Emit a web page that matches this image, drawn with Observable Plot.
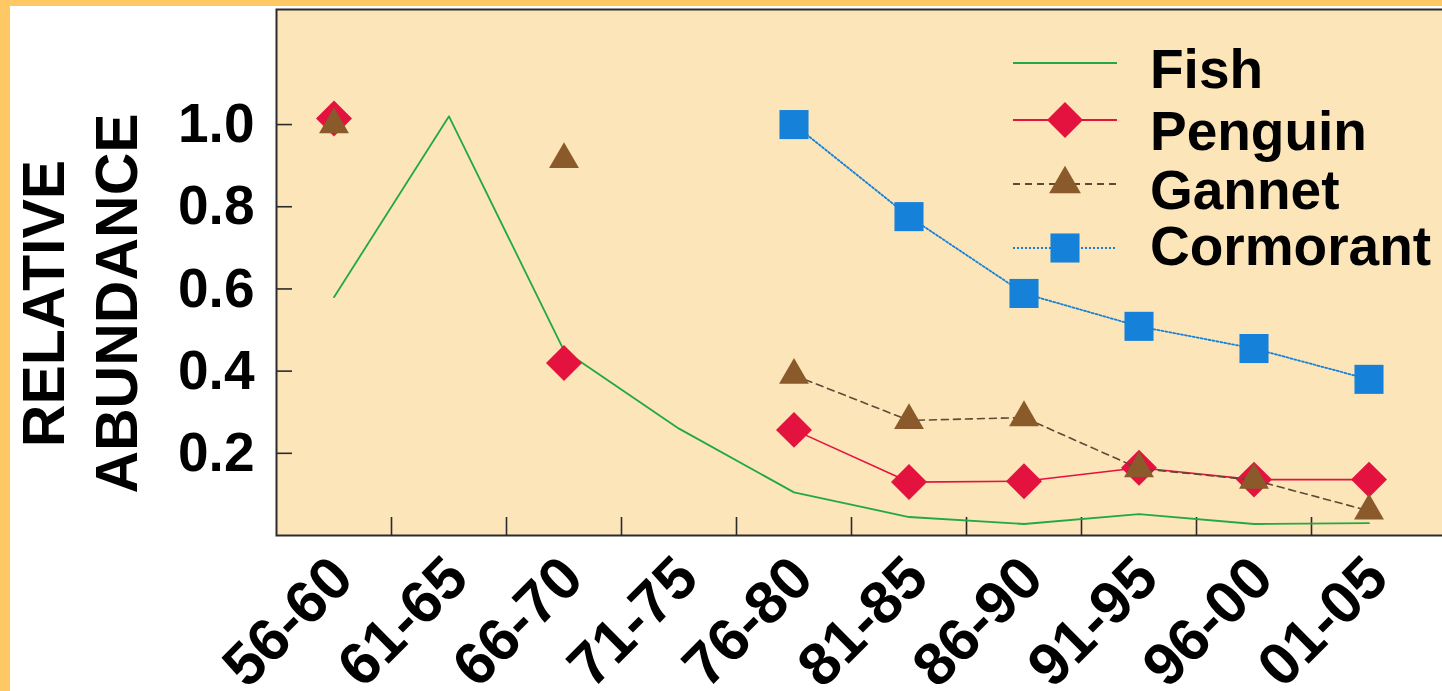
<!DOCTYPE html>
<html><head><meta charset="utf-8">
<script src="https://cdn.jsdelivr.net/npm/d3@7"></script>
<script src="https://cdn.jsdelivr.net/npm/@observablehq/plot@0.6"></script>
<style>
html,body{margin:0;padding:0;background:#fff;overflow:hidden;}
#wrap{position:relative;width:1442px;height:691px;overflow:hidden;background:#fff;}
#stripTop{position:absolute;left:0;top:0;width:1442px;height:6px;background:#FEC964;}
#stripLeft{position:absolute;left:0;top:0;width:10px;height:691px;background:#FEC964;}
#chart{position:absolute;left:10px;top:6px;width:1440px;height:685px;}
#chart svg{max-width:none !important;}
#legend{position:absolute;left:0;top:0;}
</style></head><body>
<div id="wrap"><div id="chart"></div><svg id="legend" width="1442" height="300"></svg><div id="stripTop"></div><div id="stripLeft"></div></div>
<script>
// ---- data ----
const periods = ["56-60","61-65","66-70","71-75","76-80","81-85","86-90","91-95","96-00","01-05"];
const fish      = [0.58, 1.02, 0.45, 0.26, 0.105, 0.045, 0.028, 0.052, 0.028, 0.03];
const penguin   = [1.015, NaN, 0.42, NaN, 0.257, 0.13, 0.132, 0.165, 0.136, 0.136];
const gannet    = [1.0, NaN, 0.915, NaN, 0.39, 0.28, 0.287, 0.163, 0.135, 0.06];
const cormorant = [NaN, NaN, NaN, NaN, 1.0, 0.776, 0.589, 0.509, 0.455, 0.38];
const yTicks = [0.2, 0.4, 0.6, 0.8, 1.0];
const seriesNames = ["Fish", "Penguin", "Gannet", "Cormorant"];
const yTitle = ["RELATIVE", "ABUNDANCE"];

// ---- style ----
const FONT = "'Liberation Sans', Arial, Helvetica, sans-serif";
const BEIGE = "#FCE5B9", FRAME = "#2b2b2b";
const GREEN = "#22A845", RED = "#E3123F", BROWN = "#8A5A2A", GDASH = "#5E4A36", BLUE = "#1681D8";

const rows = periods.map((p, i) => ({i, p, fish: fish[i], penguin: penguin[i], gannet: gannet[i], cormorant: cormorant[i]}));
const boundaries = d3.range(1, periods.length).map(i => i - 0.5);

const W = 1440, H = 685, ML = 266, MT = 3, MB = 156, STEP = 115;
const plotH = H - MT - MB;

const chart = Plot.plot({
  width: W, height: H,
  marginLeft: ML, marginRight: 0, marginTop: MT, marginBottom: MB,
  style: {fontFamily: FONT, background: "transparent", overflow: "visible", maxWidth: "none"},
  x: {type: "linear", domain: [-0.5, -0.5 + (W - ML) / STEP], axis: null},
  y: {domain: [0, 1.28], axis: null},
  marks: [
    Plot.frame({fill: BEIGE, stroke: FRAME, strokeWidth: 2}),
    // inward tick marks
    Plot.ruleY(yTicks, {y: d => d, insetRight: (W - ML) - 16, stroke: FRAME, strokeWidth: 1.6}),
    Plot.ruleX(boundaries, {x: d => d, insetTop: plotH - 18, stroke: FRAME, strokeWidth: 1.6}),
    // tick labels
    Plot.text(yTicks, {y: d => d, frameAnchor: "left", textAnchor: "end", dx: -22, text: d => d.toFixed(1),
      fontSize: 55, fontWeight: "bold", fill: "#000"}),
    Plot.text(periods, {x: (d, i) => i, frameAnchor: "bottom", rotate: -45, textAnchor: "end", dx: 22, dy: 46,
      text: d => d, fontSize: 60, fontWeight: "bold", fill: "#000"}),
    // y title
    Plot.text([yTitle.join("\n")], {frameAnchor: "left", rotate: -90, dx: -199, dy: 31, text: d => d,
      textAnchor: "middle", lineHeight: 1.24, fontSize: 59, fontWeight: "bold", fill: "#000"}),
    // series
    Plot.line(rows, {x: "i", y: "fish", stroke: GREEN, strokeWidth: 1.8}),
    Plot.line(rows, {x: "i", y: "penguin", stroke: RED, strokeWidth: 1.6}),
    Plot.dot(rows, {x: "i", y: "penguin", symbol: "diamond2", r: 16.2, fill: RED}),
    Plot.line(rows, {x: "i", y: "gannet", stroke: GDASH, strokeWidth: 1.6, strokeDasharray: "7,5"}),
    Plot.dot(rows, {x: "i", y: "gannet", symbol: "triangle", r: 11.1, fill: BROWN}),
    Plot.line(rows, {x: "i", y: "cormorant", stroke: BLUE, strokeWidth: 1.8, strokeDasharray: "2,2"}),
    Plot.dot(rows, {x: "i", y: "cormorant", symbol: "square", r: 16.4, fill: BLUE})
  ]
});
document.getElementById("chart").appendChild(chart);

// ---- legend (overlay) ----
const legendStyle = {
  Fish:      {color: GREEN, lineColor: GREEN, dash: null,  symbol: null,              r: 0,    lineY: 63,  textY: 69},
  Penguin:   {color: RED,   lineColor: RED,   dash: null,  symbol: d3.symbolDiamond2, r: 16.2, lineY: 120, textY: 131},
  Gannet:    {color: BROWN, lineColor: GDASH, dash: "7,5", symbol: d3.symbolTriangle, r: 11.8, lineY: 184, textY: 190},
  Cormorant: {color: BLUE,  lineColor: BLUE,  dash: "2,2", symbol: d3.symbolSquare,   r: 16.4, lineY: 248, textY: 246}
};
const leg = d3.select("#legend");
seriesNames.forEach((name) => {
  const s = legendStyle[name];
  leg.append("line").attr("x1", 1013).attr("x2", 1117).attr("y1", s.lineY).attr("y2", s.lineY)
    .attr("stroke", s.lineColor).attr("stroke-width", 1.8).attr("stroke-dasharray", s.dash);
  if (s.symbol) {
    leg.append("path").attr("d", d3.symbol(s.symbol, s.r * s.r * Math.PI)())
      .attr("transform", `translate(1065,${s.lineY})`).attr("fill", s.color);
  }
  leg.append("text").attr("x", 1150).attr("y", s.textY).attr("dy", "0.35em").text(name)
    .attr("font-family", FONT).attr("font-weight", "bold").attr("font-size", 55).attr("fill", "#000");
});
</script>
</body></html>
